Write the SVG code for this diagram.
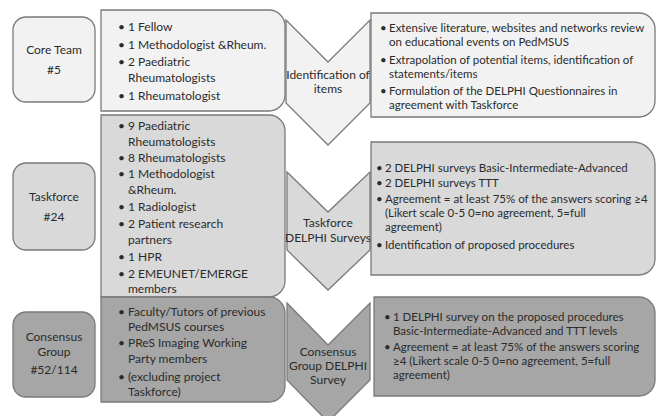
<svg xmlns="http://www.w3.org/2000/svg" width="662" height="416" viewBox="0 0 662 416">
<style>
text{font-family:Lato,"Liberation Sans",sans-serif;font-size:12px;fill:#2b2b2b}
.c{text-anchor:middle}
.t text{font-size:11.5px}
.s{stroke:#7a7a7a;stroke-width:1.3}
.r1{fill:#f2f2f2}.r2{fill:#d9d9d9}.r3{fill:#a6a6a6}
</style>
<rect width="662" height="416" fill="#fff"/>
<g id="connectors">
<polygon class="s r1" points="286,20 328,62 370,20 370,103 328,145 286,103"/>
<polygon class="s r2" points="287,172 328,212 370,172 370,250 328,290 287,250"/>
<polygon class="s r3" points="287,303 328,345 370,303 370,380 328,422 287,380"/>
<g class="c">
<text x="328" y="79">Identification of</text>
<text x="328" y="93">items</text>
<text x="328" y="227">Taskforce</text>
<text x="328" y="242">DELPHI Surveys</text>
<text x="328" y="356">Consensus</text>
<text x="328" y="370">Group DELPHI</text>
<text x="328" y="384">Survey</text>
</g>
</g>
<g id="core-team">
<rect class="s r1" x="13" y="17" width="82" height="85" rx="13"/>
<text class="c" x="54" y="54">Core Team</text>
<text class="c" x="54" y="74">#5</text>
</g>
<g id="core-members">
<path class="s r1" d="M101,10H269A16,16 0 0 1 285,26V95A16,16 0 0 1 269,111H101Z"/>
<text x="118" y="31">•</text><text x="128" y="31">1 Fellow</text>
<text x="118" y="49">•</text><text x="128" y="49">1 Methodologist &amp;Rheum.</text>
<text x="118" y="66">•</text><text x="128" y="66">2 Paediatric</text>
<text x="128" y="82">Rheumatologists</text>
<text x="118" y="100">•</text><text x="128" y="100">1 Rheumatologist</text>
</g>
<g id="core-tasks" class="t">
<path class="s r1" d="M371,13H639A16,16 0 0 1 655,29V101A16,16 0 0 1 639,117H371Z"/>
<text x="380" y="32">•</text><text x="389" y="32">Extensive literature, websites and networks review</text>
<text x="389" y="46">on educational events on PedMSUS</text>
<text x="380" y="64">•</text><text x="389" y="64">Extrapolation of potential items, identification of</text>
<text x="389" y="78">statements/items</text>
<text x="380" y="95">•</text><text x="389" y="95">Formulation of the DELPHI Questionnaires in</text>
<text x="389" y="109">agreement with Taskforce</text>
</g>
<g id="taskforce">
<rect class="s r2" x="13" y="163" width="82" height="87" rx="13"/>
<text class="c" x="54" y="201">Taskforce</text>
<text class="c" x="54" y="221">#24</text>
</g>
<g id="taskforce-members">
<path class="s r2" d="M101,115H269A16,16 0 0 1 285,131V281A16,16 0 0 1 269,297H101Z"/>
<text x="118" y="130">•</text><text x="128" y="130">9 Paediatric</text>
<text x="128" y="146">Rheumatologists</text>
<text x="118" y="162">•</text><text x="128" y="162">8 Rheumatologists</text>
<text x="118" y="178">•</text><text x="128" y="178">1 Methodologist</text>
<text x="128" y="194">&amp;Rheum.</text>
<text x="118" y="211">•</text><text x="128" y="211">1 Radiologist</text>
<text x="118" y="228">•</text><text x="128" y="228">2 Patient research</text>
<text x="128" y="244">partners</text>
<text x="118" y="261">•</text><text x="128" y="261">1 HPR</text>
<text x="118" y="278">•</text><text x="128" y="278">2 EMEUNET/EMERGE</text>
<text x="128" y="293">members</text>
</g>
<g id="taskforce-tasks" class="t">
<path class="s r2" d="M371,142H633A22,22 0 0 1 655,164V259A16,16 0 0 1 639,275H371Z"/>
<text x="376" y="172">•</text><text x="385" y="172">2 DELPHI surveys Basic-Intermediate-Advanced</text>
<text x="376" y="187">•</text><text x="385" y="187">2 DELPHI surveys TTT</text>
<text x="376" y="203">•</text><text x="385" y="203">Agreement = at least 75% of the answers scoring ≥4</text>
<text x="385" y="217">(Likert scale 0-5 0=no agreement, 5=full</text>
<text x="385" y="231">agreement)</text>
<text x="376" y="249">•</text><text x="385" y="249">Identification of proposed procedures</text>
</g>
<g id="consensus-group">
<rect class="s r3" x="13" y="312" width="82" height="85" rx="13"/>
<text class="c" x="54" y="341">Consensus</text>
<text class="c" x="54" y="356">Group</text>
<text class="c" x="54" y="374">#52/114</text>
</g>
<g id="consensus-members">
<path class="s r3" d="M101,297H269A16,16 0 0 1 285,313V386A16,16 0 0 1 269,402H101Z"/>
<text x="118" y="316">•</text><text x="128" y="316">Faculty/Tutors of previous</text>
<text x="128" y="331">PedMSUS courses</text>
<text x="118" y="347">•</text><text x="128" y="347">PReS Imaging Working</text>
<text x="128" y="363">Party members</text>
<text x="118" y="381">•</text><text x="128" y="381">(excluding project</text>
<text x="128" y="396">Taskforce)</text>
</g>
<g id="consensus-tasks" class="t">
<path class="s r3" d="M374,297H639A16,16 0 0 1 655,313V380A16,16 0 0 1 639,396H374Z"/>
<text x="384" y="321">•</text><text x="393" y="321">1 DELPHI survey on the proposed procedures</text>
<text x="393" y="335">Basic-Intermediate-Advanced and TTT levels</text>
<text x="384" y="351">•</text><text x="393" y="351">Agreement = at least 75% of the answers scoring</text>
<text x="393" y="365">≥4 (Likert scale 0-5 0=no agreement, 5=full</text>
<text x="393" y="379">agreement)</text>
</g>
</svg>
